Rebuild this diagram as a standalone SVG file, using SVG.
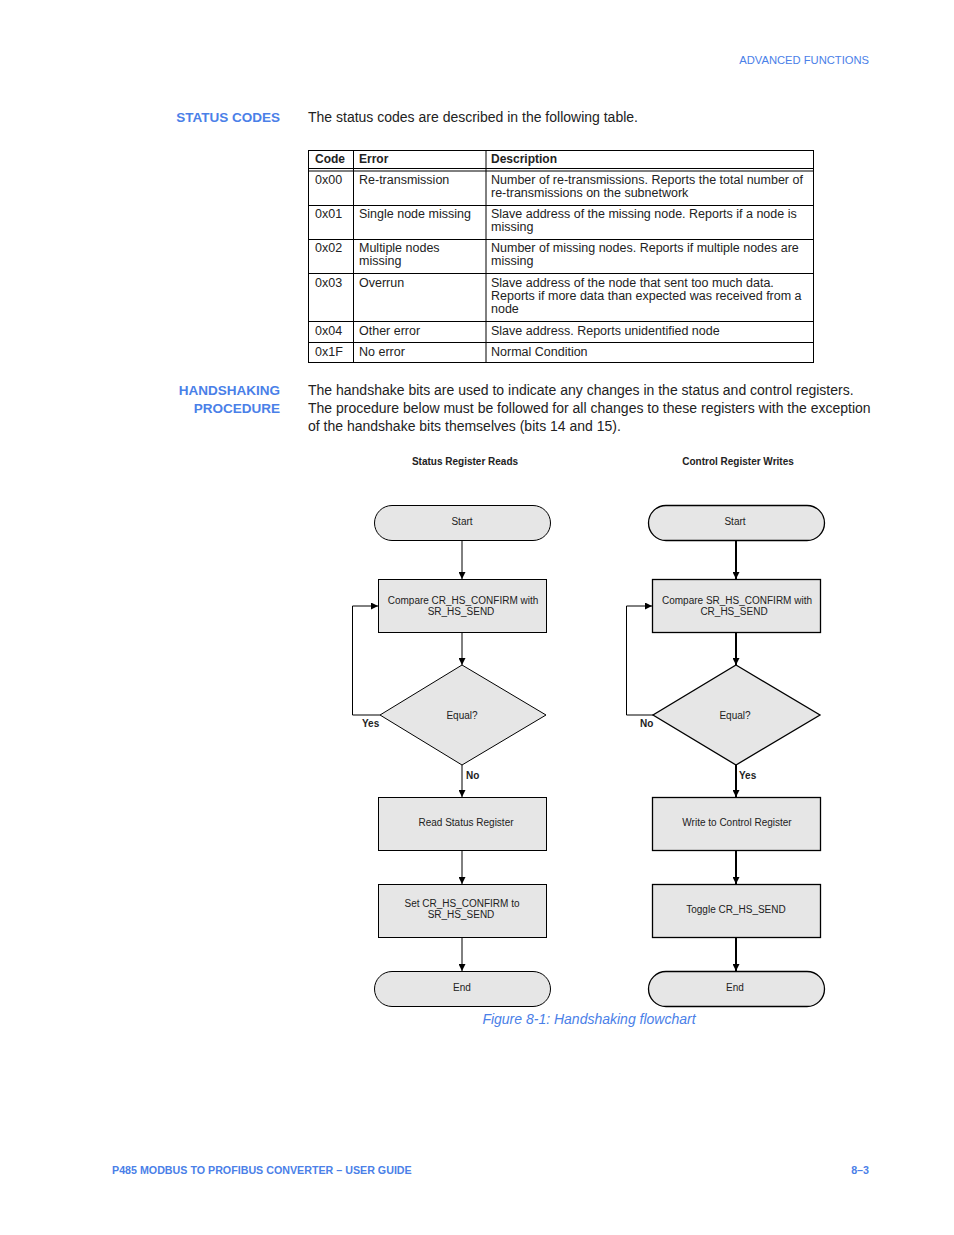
<svg xmlns="http://www.w3.org/2000/svg" width="954" height="1235" viewBox="0 0 954 1235">
<defs>
<style>
text{font-family:"Liberation Sans",Arial,sans-serif;fill:#222}
.blue{fill:#4a80e8}
.hd{font-weight:bold;font-size:13.5px}
.body{font-size:14px}
.tb{font-size:12.5px}
.th{font-size:12px;font-weight:bold}
.fc{font-size:10px;text-anchor:middle}
.lbl{font-size:10px;font-weight:bold}
.node{fill:#e6e6e6;stroke:#000;stroke-width:1}
.nodeR{fill:#e6e6e6;stroke:#000;stroke-width:1.3}
.grid{stroke:#000;stroke-width:1;fill:none}
.c1{stroke:#000;stroke-width:1;fill:none}
.c2{stroke:#000;stroke-width:2;fill:none}
</style>
<marker id="ah" viewBox="0 0 10 10" refX="10" refY="5" markerWidth="7" markerHeight="7" markerUnits="userSpaceOnUse" orient="auto"><path d="M0,0 L10,5 L0,10 z" fill="#000"/></marker>
</defs>
<rect width="954" height="1235" fill="#fff"/>
<text x="869" y="64" class="blue" font-size="11.2" text-anchor="end">ADVANCED FUNCTIONS</text>
<text x="280" y="122" class="blue hd" text-anchor="end">STATUS CODES</text>
<text x="308" y="122" class="body">The status codes are described in the following table.</text>

<g id="table">
<rect x="308.5" y="150.5" width="505" height="212" class="grid"/>
<line x1="308" y1="168.5" x2="813" y2="168.5" class="grid"/>
<line x1="308" y1="171" x2="813" y2="171" class="grid"/>
<line x1="353.5" y1="150" x2="353.5" y2="363" class="grid"/>
<line x1="486" y1="150" x2="486" y2="363" class="grid"/>
<line x1="308" y1="205.5" x2="813" y2="205.5" class="grid"/>
<line x1="308" y1="239.5" x2="813" y2="239.5" class="grid"/>
<line x1="308" y1="273.5" x2="813" y2="273.5" class="grid"/>
<line x1="308" y1="321.5" x2="813" y2="321.5" class="grid"/>
<line x1="308" y1="342.5" x2="813" y2="342.5" class="grid"/>
<text x="315" y="163" class="th">Code</text>
<text x="359" y="163" class="th">Error</text>
<text x="491" y="163" class="th">Description</text>
<text x="315" y="184" class="tb">0x00</text>
<text x="359" y="184" class="tb">Re-transmission</text>
<text x="491" y="184" class="tb">Number of re-transmissions. Reports the total number of</text>
<text x="491" y="197" class="tb">re-transmissions on the subnetwork</text>
<text x="315" y="218" class="tb">0x01</text>
<text x="359" y="218" class="tb">Single node missing</text>
<text x="491" y="218" class="tb">Slave address of the missing node. Reports if a node is</text>
<text x="491" y="231" class="tb">missing</text>
<text x="315" y="252" class="tb">0x02</text>
<text x="359" y="252" class="tb">Multiple nodes</text>
<text x="359" y="265" class="tb">missing</text>
<text x="491" y="252" class="tb">Number of missing nodes. Reports if multiple nodes are</text>
<text x="491" y="265" class="tb">missing</text>
<text x="315" y="287" class="tb">0x03</text>
<text x="359" y="287" class="tb">Overrun</text>
<text x="491" y="287" class="tb">Slave address of the node that sent too much data.</text>
<text x="491" y="300" class="tb">Reports if more data than expected was received from a</text>
<text x="491" y="313" class="tb">node</text>
<text x="315" y="335" class="tb">0x04</text>
<text x="359" y="335" class="tb">Other error</text>
<text x="491" y="335" class="tb">Slave address. Reports unidentified node</text>
<text x="315" y="356" class="tb">0x1F</text>
<text x="359" y="356" class="tb">No error</text>
<text x="491" y="356" class="tb">Normal Condition</text>
</g>

<text x="280" y="395" class="blue hd" text-anchor="end">HANDSHAKING</text>
<text x="280" y="413" class="blue hd" text-anchor="end">PROCEDURE</text>
<text x="308" y="395" class="body">The handshake bits are used to indicate any changes in the status and control registers.</text>
<text x="308" y="413" class="body">The procedure below must be followed for all changes to these registers with the exception</text>
<text x="308" y="431" class="body">of the handshake bits themselves (bits 14 and 15).</text>

<text x="465" y="465" class="lbl" text-anchor="middle">Status Register Reads</text>
<text x="738" y="465" class="lbl" text-anchor="middle">Control Register Writes</text>

<g id="connectors">
<line x1="462" y1="540" x2="462" y2="579" class="c1" marker-end="url(#ah)"/>
<line x1="462" y1="632" x2="462" y2="665" class="c1" marker-end="url(#ah)"/>
<polyline points="380,715 352.5,715 352.5,606 378,606" class="c1" marker-end="url(#ah)"/>
<line x1="462" y1="765" x2="462" y2="797" class="c1" marker-end="url(#ah)"/>
<line x1="462" y1="850" x2="462" y2="884" class="c1" marker-end="url(#ah)"/>
<line x1="462" y1="937" x2="462" y2="971" class="c1" marker-end="url(#ah)"/>
<line x1="736" y1="540" x2="736" y2="579" class="c2" marker-end="url(#ah)"/>
<line x1="736" y1="632" x2="736" y2="665" class="c2" marker-end="url(#ah)"/>
<polyline points="653,715 626.5,715 626.5,606 652,606" class="c1" marker-end="url(#ah)"/>
<line x1="736" y1="765" x2="736" y2="797" class="c2" marker-end="url(#ah)"/>
<line x1="736" y1="850" x2="736" y2="884" class="c2" marker-end="url(#ah)"/>
<line x1="736" y1="937" x2="736" y2="971" class="c2" marker-end="url(#ah)"/>
<text x="362" y="727" class="lbl">Yes</text>
<text x="466" y="779" class="lbl">No</text>
<text x="640" y="727" class="lbl">No</text>
<text x="739" y="779" class="lbl">Yes</text>
</g>

<g id="l-start"><rect x="374.5" y="505.5" width="176" height="35" rx="17.5" class="node"/><text x="462" y="525" class="fc">Start</text></g>
<g id="l-compare"><rect x="378.5" y="579.5" width="168" height="53" class="node"/><text x="463" y="604" class="fc">Compare CR_HS_CONFIRM with</text><text x="461" y="615" class="fc">SR_HS_SEND</text></g>
<g id="l-equal"><polygon points="462,665 546,715 462,765 380,715" class="node"/><text x="462" y="719" class="fc">Equal?</text></g>
<g id="l-read"><rect x="378.5" y="797.5" width="168" height="53" class="node"/><text x="466" y="826" class="fc">Read Status Register</text></g>
<g id="l-set"><rect x="378.5" y="884.5" width="168" height="53" class="node"/><text x="462" y="907" class="fc">Set CR_HS_CONFIRM to</text><text x="461" y="918" class="fc">SR_HS_SEND</text></g>
<g id="l-end"><rect x="374.5" y="971.5" width="176" height="35" rx="17.5" class="node"/><text x="462" y="991" class="fc">End</text></g>

<g id="r-start"><rect x="648.5" y="505.5" width="176" height="35" rx="17.5" class="nodeR"/><text x="735" y="525" class="fc">Start</text></g>
<g id="r-compare"><rect x="652.5" y="579.5" width="168" height="53" class="nodeR"/><text x="737" y="604" class="fc">Compare SR_HS_CONFIRM with</text><text x="734" y="615" class="fc">CR_HS_SEND</text></g>
<g id="r-equal"><polygon points="736,665 820,715 736,765 653,715" class="nodeR"/><text x="735" y="719" class="fc">Equal?</text></g>
<g id="r-write"><rect x="652.5" y="797.5" width="168" height="53" class="nodeR"/><text x="737" y="826" class="fc">Write to Control Register</text></g>
<g id="r-toggle"><rect x="652.5" y="884.5" width="168" height="53" class="nodeR"/><text x="736" y="913" class="fc">Toggle CR_HS_SEND</text></g>
<g id="r-end"><rect x="648.5" y="971.5" width="176" height="35" rx="17.5" class="nodeR"/><text x="735" y="991" class="fc">End</text></g>

<text x="589" y="1024" class="blue" font-size="14" font-style="italic" text-anchor="middle">Figure 8-1: Handshaking flowchart</text>
<text x="112" y="1174" class="blue" font-size="10.7" font-weight="bold">P485 MODBUS TO PROFIBUS CONVERTER – USER GUIDE</text>
<text x="869" y="1174" class="blue" font-size="10.7" font-weight="bold" text-anchor="end">8–3</text>
</svg>
